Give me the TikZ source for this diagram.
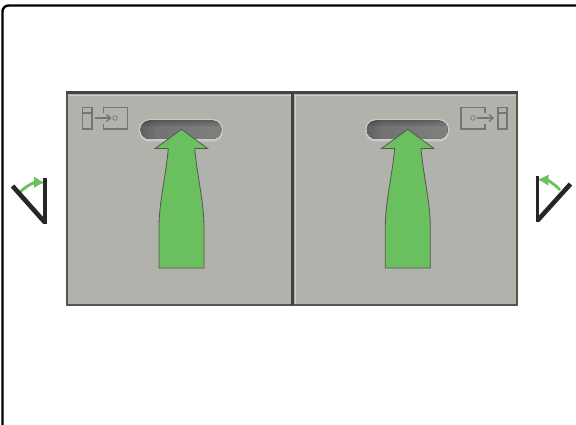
\documentclass[tikz,border=0pt]{standalone}
\usepackage{xcolor}
\usetikzlibrary{arrows.meta,positioning,calc,fit}
\definecolor{panelgray}{HTML}{B1B2AB}
\definecolor{edgegray}{HTML}{55574F}
\definecolor{rimgray}{HTML}{CBCCC6}
\definecolor{icongray}{HTML}{74766F}
\definecolor{arrowgreen}{HTML}{6ABF5E}
\pgfdeclarehorizontalshading{slotshade}{100bp}{
  color(0bp)=(black!75); color(5bp)=(black!80); color(12bp)=(black!72);
  color(35bp)=(black!55); color(92bp)=(black!48); color(98bp)=(black!62); color(100bp)=(black!75)}
\tikzset{
  panelbox/.style={fill=panelgray,draw=edgegray,line width=2pt},
  slotrim/.style={rounded corners=10.5pt,fill=rimgray},
  slotbox/.style={rounded corners=9pt,shading=slotshade,shading angle=0},
  iconline/.style={draw=icongray,line width=1.3pt},
  bigarrow/.style={fill=arrowgreen,draw=edgegray,line width=.8pt,line join=miter},
  doorline/.style={draw=black!85,line width=3.6pt},
  swingarrow/.style={draw=arrowgreen,line width=2.8pt,-{Latex[length=11pt,width=12pt]}},
}
\begin{document}
\begin{tikzpicture}[x=1pt,y=-1pt]
\useasboundingbox (0,0) rectangle (576,425);
\fill[white] (0,0) rectangle (576,425);
\draw[black,line width=2.4pt,rounded corners=6pt] (2.5,425)--(2.5,5.5)--(576,5.5);
% panels
\draw[panelbox] (67,93) rectangle (292,305);
\draw[panelbox] (292,93) rectangle (517,305);
\draw[edgegray!80!black,line width=2.4pt] (66,92.5)--(518,92.5);
\draw[rimgray,line width=1pt] (68.5,95.5)--(515.5,95.5);
\draw[black!75,line width=3pt] (292,92)--(292,305);
\draw[rimgray,line width=1pt] (295.5,95)--(295.5,304);
\foreach \dx in {0,226.3}{
  \begin{scope}[xshift=\dx pt]
    \fill[slotrim] (139,119) rectangle (223,141.5);
    \begin{scope}
      \clip[rounded corners=9pt] (140.5,120.5) rectangle (221.5,139);
      \fill[slotbox] (140.5,120.5) rectangle (221.5,139);
      \fill[black,opacity=.2] (140.5,120.5) rectangle (221.5,123.5);
      \fill[black,opacity=.1] (140.5,123.5) rectangle (221.5,126.5);
    \end{scope}
    \draw[bigarrow] (181.5,129.3)--(207.7,148.6)--(194.7,148.6)
      .. controls (197,175) and (203.5,200) .. (204,225)--(204,268)--(159,268)--(159,225)
      .. controls (159.5,200) and (166,175) .. (168.3,148.6)--(155,148.6)--cycle;
  \end{scope}
}
% icon left
\draw[iconline] (82.5,107.5) rectangle (92,129);
\draw[iconline] (82.5,113)--(92,113);
\draw[iconline] (103.5,113)--(103.5,107.5)--(127.5,107.5)--(127.5,129)--(103.5,129)--(103.5,124);
\draw[iconline] (95,118)--(110,118);
\draw[iconline] (106.5,114.5)--(110.5,118)--(106.5,121.5);
\draw[icongray,line width=.7pt] (115,118) circle (2.3);
% icon right
\draw[iconline] (498,107.5) rectangle (507,129);
\draw[iconline] (498,113)--(507,113);
\draw[iconline] (485,113)--(485,107.5)--(461,107.5)--(461,129)--(485,129)--(485,124);
\draw[iconline] (477,118)--(493,118);
\draw[iconline] (489,114.5)--(493,118)--(489,121.5);
\draw[icongray,line width=.7pt] (473,118) circle (2.3);
% swing marks
\draw[swingarrow] (20,192) to[bend left=22] (45,182.5);
\draw[doorline,line width=4.6pt] (12.5,186)--(45,222.5);
\draw[doorline] (45,178)--(45,224);
\draw[swingarrow] (560,190) to[bend right=22] (537.5,179.5);
\draw[doorline,line width=4.6pt] (570.5,184)--(537.5,220.5);
\draw[doorline] (537.5,176)--(537.5,222);
\end{tikzpicture}
\end{document}
